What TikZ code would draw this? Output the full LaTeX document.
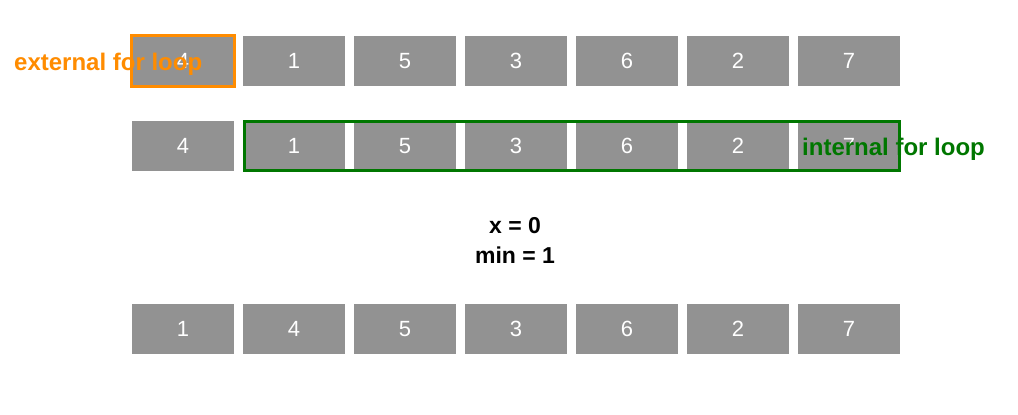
\documentclass[tikz,border=0pt]{standalone}
\usepackage{fontspec}
\setmainfont{Liberation Sans}
\usetikzlibrary{fit}
\definecolor{boxgrey}{RGB}{146,146,146}
\definecolor{extorange}{RGB}{255,140,0}
\definecolor{intgreen}{RGB}{0,119,0}
\begin{document}
\begin{tikzpicture}[x=1pt,y=-1pt,
  cell/.style={fill=boxgrey,minimum width=102pt,minimum height=50pt,inner sep=0pt,
    text=white,font=\fontsize{22}{26}\selectfont},
  looplabel/.style={font=\bfseries\fontsize{24}{28}\selectfont,inner sep=0pt,anchor=base west},
  info/.style={font=\bfseries\fontsize{23}{30}\selectfont,align=center,inner sep=0pt}]
\useasboundingbox[fill=white] (0,0) rectangle (1018,415);
% row 1
\foreach \v [count=\i] in {4,1,5,3,6,2,7}
  \node[cell] (a\i) at ({183+111*(\i-1)},61) {\v};
% row 2
\foreach \v [count=\i] in {4,1,5,3,6,2,7}
  \node[cell] (b\i) at ({183+111*(\i-1)},146) {\v};
% row 3
\foreach \v [count=\i] in {1,4,5,3,6,2,7}
  \node[cell] (c\i) at ({183+111*(\i-1)},329) {\v};
% loop frames
\node[fit=(a1),inner sep=0pt,draw=extorange,line width=3pt] (ext) {};
\node[fit=(b2)(b7),inner sep=-1pt,xshift=0.5pt,draw=intgreen,line width=2.7pt] (int) {};
% labels
\node[looplabel,text=extorange] (extlab) at (14,70) {external for loop};
\node[looplabel,text=intgreen] (intlab) at (802,155) {internal for loop};
\node[info] (vars) at (515,240) {x = 0\\min = 1};
\end{tikzpicture}
\end{document}
